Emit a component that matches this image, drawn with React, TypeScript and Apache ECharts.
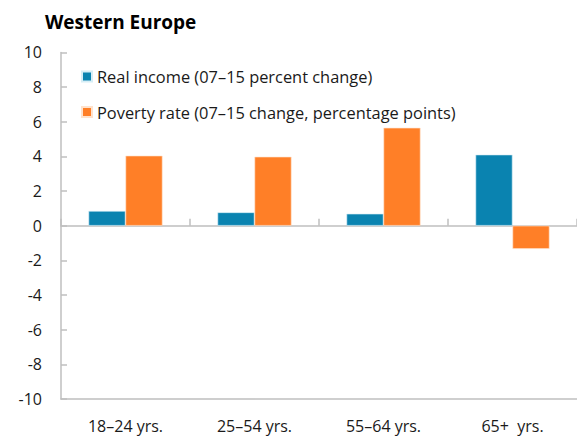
import React, { useEffect, useRef } from "react";
import * as echarts from "echarts";

const categories = ["18–24 yrs.", "25–54 yrs.", "55–64 yrs.", "65+  yrs."];
const realIncome = [0.85, 0.77, 0.69, 4.1];
const povertyRate = [4.04, 3.98, 5.65, -1.34];
const seriesNames = ["Real income (07–15 percent change)", "Poverty rate (07–15 change, percentage points)"];
const title = "Western Europe";

const FONT = "'Open Sans', Lato, sans-serif";

export default function App() {
  const ref = useRef<HTMLDivElement>(null);
  useEffect(() => {
    document.body.style.margin = "0";
    const chart = echarts.init(ref.current!, null, { renderer: "svg" });
    chart.setOption({
      animation: false,
      backgroundColor: "#ffffff",
      title: {
        text: title,
        left: 45,
        top: 12,
        padding: 0,
        textStyle: { fontFamily: FONT, fontSize: 19, fontWeight: "bold", color: "#000" },
      },
      legend: {
        orient: "vertical",
        left: 81,
        top: 68.5,
        padding: 0,
        itemWidth: 10,
        itemHeight: 10,
        itemGap: 19.5,
        icon: "rect",
        textStyle: { fontFamily: FONT, fontSize: 16.4, color: "#1a1a1a" },
        data: seriesNames,
      },
      grid: { left: 61, right: -1, top: 52.4, bottom: 40, containLabel: false },
      xAxis: [
        {
          type: "category",
          data: categories,
          position: "bottom",
          axisLine: { onZero: true, lineStyle: { color: "#bfbfbf", width: 1.5 } },
          axisTick: { show: true, inside: true, length: 7, lineStyle: { color: "#bfbfbf", width: 1.5 } },
          axisLabel: { show: false },
          splitLine: { show: false },
        },
        {
          type: "category",
          data: categories,
          position: "bottom",
          axisLine: { onZero: false, lineStyle: { color: "#bfbfbf", width: 1.5 } },
          axisTick: { show: false },
          axisLabel: { show: true, margin: 19, fontFamily: FONT, fontSize: 16, color: "#1a1a1a" },
          splitLine: { show: false },
        },
      ],
      yAxis: {
        type: "value",
        min: -10,
        max: 10,
        interval: 2,
        axisLine: { show: true, lineStyle: { color: "#bfbfbf", width: 1.5 } },
        axisTick: { show: true, inside: true, length: 6, lineStyle: { color: "#bfbfbf", width: 1.5 } },
        axisLabel: { margin: 19, fontFamily: FONT, fontSize: 16, color: "#1a1a1a" },
        splitLine: { show: false },
      },
      series: [
        {
          name: seriesNames[0],
          type: "bar",
          data: realIncome,
          barWidth: 37,
          barGap: "0%",
          itemStyle: { color: "#0a83b0", borderColor: "#d6eef6", borderWidth: 0.6 },
        },
        {
          name: seriesNames[1],
          type: "bar",
          data: povertyRate,
          barWidth: 37,
          barGap: "0%",
          itemStyle: { color: "#ff7f27", borderColor: "#ffe2cc", borderWidth: 0.6 },
        },
      ],
    });
    return () => chart.dispose();
  }, []);
  return <div ref={ref} style={{ width: 577, height: 439 }} />;
}
